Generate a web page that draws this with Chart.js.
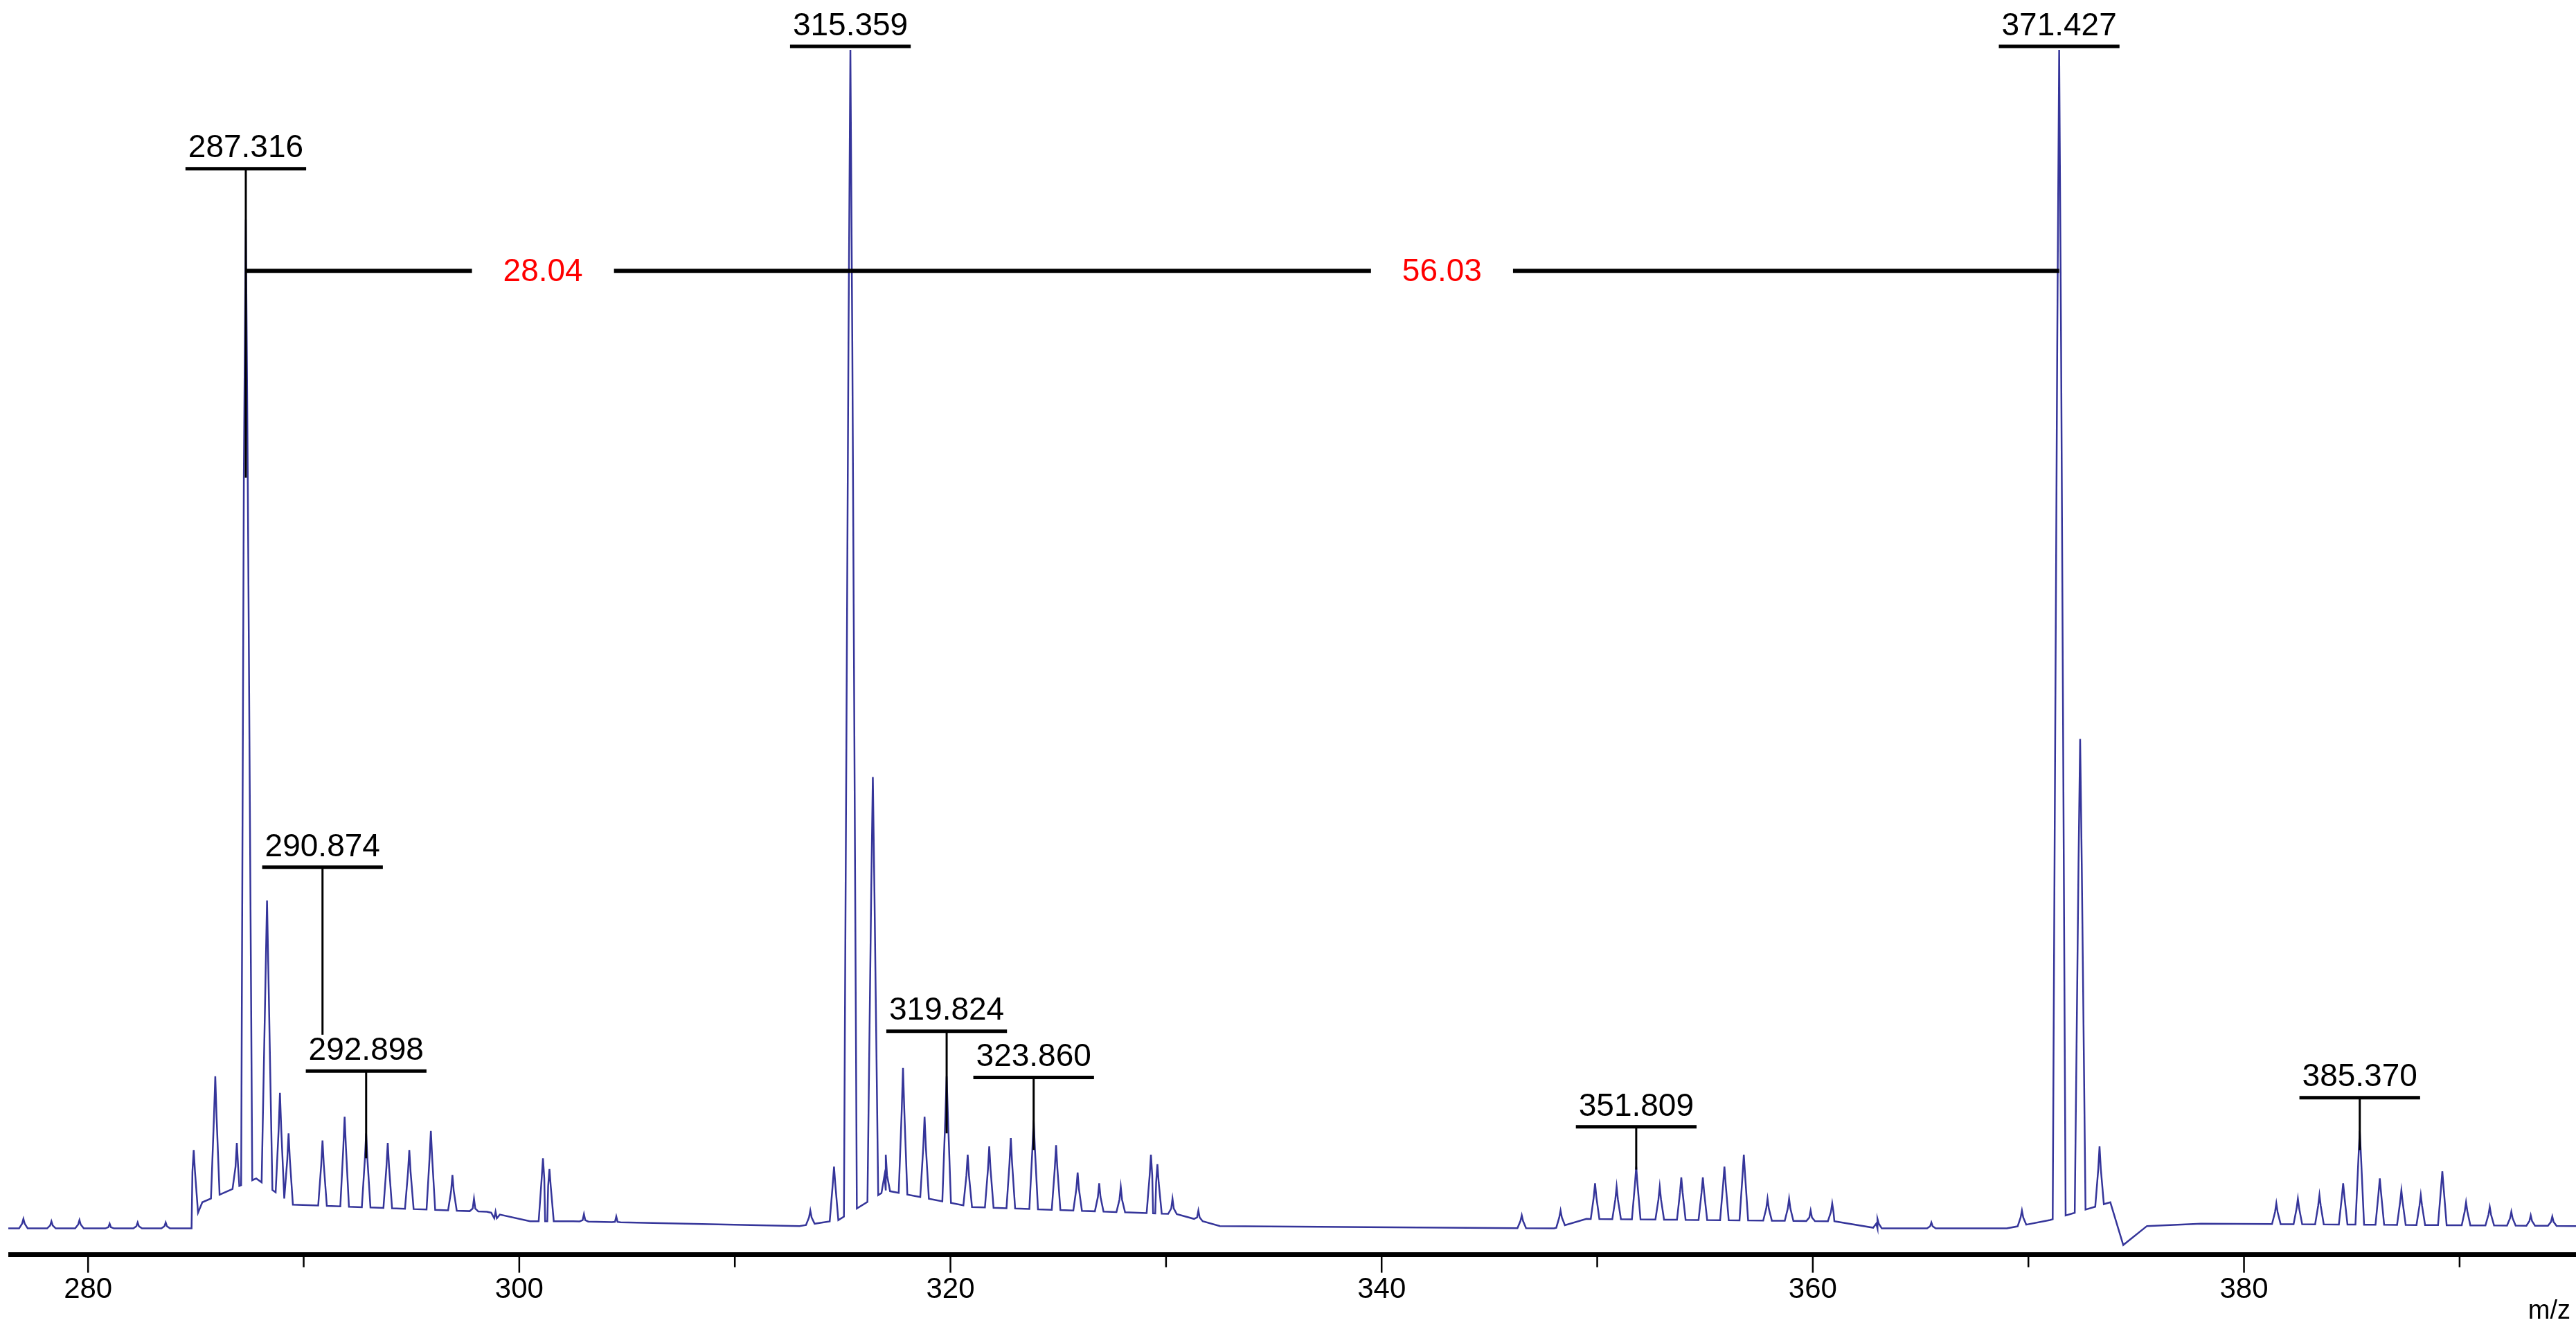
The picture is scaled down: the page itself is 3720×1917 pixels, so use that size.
<!DOCTYPE html>
<html><head><meta charset="utf-8">
<script src="https://cdn.jsdelivr.net/npm/chart.js@4"></script>
<style>html,body{margin:0;padding:0;background:#fff}#w{width:3720px;height:1917px}</style>
</head><body><div id="w"><canvas id="c"></canvas></div>
<script>
// baseline anchors [m/z, intensity]
const baselineMz  = [276.3,284.8,285.3,287.8,289.5,298.5,300.5,302.5,313.0,314.8,317.0,321.0,330.5,332.5,348.0,349.5,361.0,363.0,369.0,371.0,373.8,374.4,375.5,378.0,395.4];
const baselineInt = [0.8,  0.8,  3.0,  5.0,  2.8,  2.2,  1.4,  1.4,  1.0,  1.5,  4.0,  2.6,  2.0,  1.0,  0.8,  1.6,  1.4,  0.8,  0.8,  1.5,  3.0, -0.6,  1.0,  1.2,  1.0];
// peaks
const peakMz  = [277.0,278.3,279.6,281.0,282.3,283.6,284.9,285.9,286.9,287.316,288.3,288.9,289.3,290.874,291.9,292.898,293.9,294.9,295.9,296.9,297.9,298.9,301.1,301.4,303.0,304.5,313.5,314.6,315.359,316.4,317.0,317.8,318.8,319.824,320.8,321.8,322.8,323.860,324.9,325.9,326.9,327.9,329.3,329.6,330.3,331.5,346.5,348.3,349.9,350.9,351.809,352.9,353.9,354.9,355.9,356.8,357.9,358.9,359.9,360.9,363.0,365.5,369.7,371.427,372.4,373.3,381.5,382.5,383.5,384.6,385.370,386.3,387.3,388.2,389.2,390.3,391.4,392.4,393.3,394.3];
const peakInt = [1.6,  1.4,  1.5,  1.2,  1.3,  1.3,  7.4,  13.6, 8.0,  85.7,   28.4, 12.2, 8.8,  8.2,    10.2, 8.8,    8.0,  7.4,  9.0,  5.3,  3.3,  2.2,  6.7,  5.8,  2.0,  1.8,  2.3,  6.0,  100,    38.8, 7.0,  14.3, 10.2, 13.6,   7.0,  7.7,  8.4,  9.9,    7.8,  5.5,  4.6,  4.3,  7.0,  6.2,  3.3,  2.3,  1.9,  2.3,  4.6,  4.3,  6.0,    4.3,  5.1,  5.1,  6.0,  7.0,  3.3,  3.3,  2.3,  2.9,  1.6,  1.3,  2.3,  100,    42.0, 7.7,  2.9,  3.3,  3.6,  4.6,  9.0,    5.0,  4.0,  3.6,  5.6,  3.0,  2.6,  2.2,  1.9,  1.8];
// annotations
const labelMz   = [287.316,315.359,371.427,290.874,292.898,319.824,323.860,351.809,385.370];
const labelText = ["287.316","315.359","371.427","290.874","292.898","319.824","323.860","351.809","385.370"];
const labelY    = [90.0,100.3,100.3,31.2,14.05,17.4,13.5,9.35,11.8];
const labelEnd  = [64.0,100.3,100.3,17.1,6.7,8.8,7.4,5.75,7.4];
const measFrom = [287.316,315.359], measTo=[315.359,371.427], measText=["28.04","56.03"], measTextMz=[301.1,342.8], measY=81.4;
const xTicks=[280,300,320,340,360,380], xMinor=[290,310,330,350,370,390];

function baseAt(x){for(let i=0;i<baselineMz.length-1;i++){if(x<=baselineMz[i+1]){const t=(x-baselineMz[i])/(baselineMz[i+1]-baselineMz[i]);return baselineInt[i]+t*(baselineInt[i+1]-baselineInt[i]);}}return baselineInt[baselineInt.length-1];}
let pts=baselineMz.map((x,i)=>({x,y:baselineInt[i]}));
peakMz.forEach((c,i)=>{const w=peakInt[i]>50?0.3:(peakInt[i]>20?0.25:0.2);pts.push({x:c-w,y:baseAt(c-w)},{x:c-w*0.3,y:peakInt[i]*0.75},{x:c,y:peakInt[i]},{x:c+w*0.3,y:peakInt[i]*0.75},{x:c+w,y:baseAt(c+w)});});
pts.sort((a,b)=>a.x-b.x);

const F="'Liberation Sans', Arial, sans-serif";
const annot={id:'annot',afterDatasetsDraw(ch){
 const c=ch.ctx,xs=ch.scales.x,ys=ch.scales.y;
 c.save();
 c.strokeStyle='#000';c.lineWidth=6;c.font='46px '+F;c.textAlign='center';c.textBaseline='middle';
 measFrom.forEach((f,i)=>{const x1=xs.getPixelForValue(f),x2=xs.getPixelForValue(measTo[i]),y=ys.getPixelForValue(measY),xt=xs.getPixelForValue(measTextMz[i]);
  const tw=c.measureText(measText[i]).width,g=tw/2+45;
  c.beginPath();c.moveTo(x1,y);c.lineTo(xt-g,y);c.moveTo(xt+g,y);c.lineTo(x2,y);c.stroke();
  c.fillStyle='#ff0000';c.fillText(measText[i],xt,y+2);});
 c.textBaseline='bottom';c.fillStyle='#000';
 labelMz.forEach((m,i)=>{const x=xs.getPixelForValue(m),y=ys.getPixelForValue(labelY[i]),ye=ys.getPixelForValue(labelEnd[i]);
  const tw=c.measureText(labelText[i]).width;
  c.fillText(labelText[i],x,y-6);
  c.lineWidth=5;c.beginPath();c.moveTo(x-tw/2-4,y);c.lineTo(x+tw/2+4,y);c.stroke();
  c.lineWidth=3;c.beginPath();c.moveTo(x,y);c.lineTo(x,ye);c.stroke();});
 const yb=ys.bottom+2;
 c.lineWidth=7;c.beginPath();c.moveTo(ch.chartArea.left,yb);c.lineTo(ch.chartArea.right,yb);c.stroke();
 c.lineWidth=2.5;
 xTicks.forEach(t=>{const x=xs.getPixelForValue(t);c.beginPath();c.moveTo(x,yb);c.lineTo(x,yb+26);c.stroke();});
 xMinor.forEach(t=>{const x=xs.getPixelForValue(t);c.beginPath();c.moveTo(x,yb);c.lineTo(x,yb+18);c.stroke();});
 c.font='38px '+F;c.textAlign='right';c.textBaseline='bottom';c.fillText('m/z',ch.chartArea.right-8,1914);
 c.restore();}};

new Chart(document.getElementById('c'),{type:'line',
 data:{datasets:[{data:pts,borderColor:'#35359a',borderWidth:2.5,pointRadius:0,tension:0,fill:false}]},
 options:{responsive:true,maintainAspectRatio:false,animation:false,events:[],
  layout:{padding:{left:12,right:0,top:12,bottom:0}},
  plugins:{legend:{display:false},tooltip:{enabled:false}},
  scales:{
   x:{type:'linear',min:276.3,max:395.4,grid:{display:false,drawTicks:false},border:{display:false},
      afterBuildTicks:s=>{s.ticks=xTicks.map(v=>({value:v}));},
      ticks:{color:'#000',font:{size:42,family:F},padding:28,maxRotation:0,autoSkip:false}},
   y:{min:-1.3,max:103.5,display:false}}}
 ,plugins:[annot]});
</script></body></html>
